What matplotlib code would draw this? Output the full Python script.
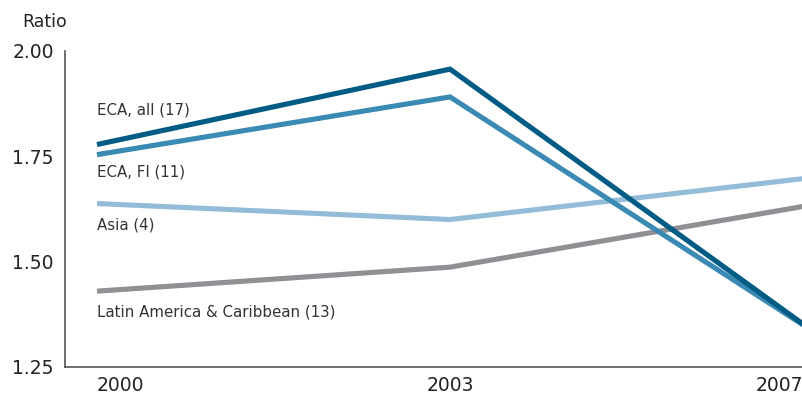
import matplotlib.pyplot as plt
import numpy as np

plt.rcParams["font.family"] = ["DejaVu Sans"]

years = ["2000", "2003", "2007"]
eca_all = [1.778, 1.957, 1.352]
eca_fi = [1.754, 1.891, 1.350]
asia = [1.638, 1.600, 1.697]
latam = [1.430, 1.487, 1.631]

series = [
    ("Latin America & Caribbean (13)", latam, "#8f8f94"),
    ("Asia (4)", asia, "#93bcd9"),
    ("ECA, FI (11)", eca_fi, "#3b8ab3"),
    ("ECA, all (17)", eca_all, "#005c85"),
]
# where each series name sits (y in data units, left edge at 2000)
label_pos = {
    "ECA, all (17)": 1.86,
    "ECA, FI (11)": 1.712,
    "Asia (4)": 1.587,
    "Latin America & Caribbean (13)": 1.381,
}

W, H = 803, 398
fig = plt.figure(figsize=(W / 100, H / 100), dpi=100)
ax = fig.add_axes([65 / W, (H - 367) / H, 1 - 65 / W, (367 - 51) / H])

x = np.arange(len(years))
for name, vals, col in series:
    ax.plot(x, vals, color=col, lw=3.7, solid_capstyle="butt", solid_joinstyle="miter")
    ax.text(0, label_pos[name], name, fontsize=10.8, color="#333333",
            ha="left", va="center")

ax.set_xlim(-32 / 353, 2)
ax.set_ylim(1.25, 2.0)
ax.set_yticks([1.25, 1.50, 1.75, 2.00])
ax.set_yticklabels(["1.25", "1.50", "1.75", "2.00"], fontsize=13.5, color="#222222")
ax.tick_params(axis="y", length=0, pad=8)
ax.set_xticks([])

# year labels under the axis
aligns = ["left", "center", "right"]
for xi, yr, al in zip(x, years, aligns):
    ax.text(xi, -0.058, yr, transform=ax.get_xaxis_transform(), ha=al, va="center",
            fontsize=13.5, color="#222222")

for s in ["top", "right"]:
    ax.spines[s].set_visible(False)
for s in ["left", "bottom"]:
    ax.spines[s].set_color("#555555")
    ax.spines[s].set_linewidth(1.2)

fig.text(22 / W, 1 - 22 / H, "Ratio", fontsize=12.5, color="#222222", ha="left", va="center")

fig.savefig("out.png", dpi=100)
